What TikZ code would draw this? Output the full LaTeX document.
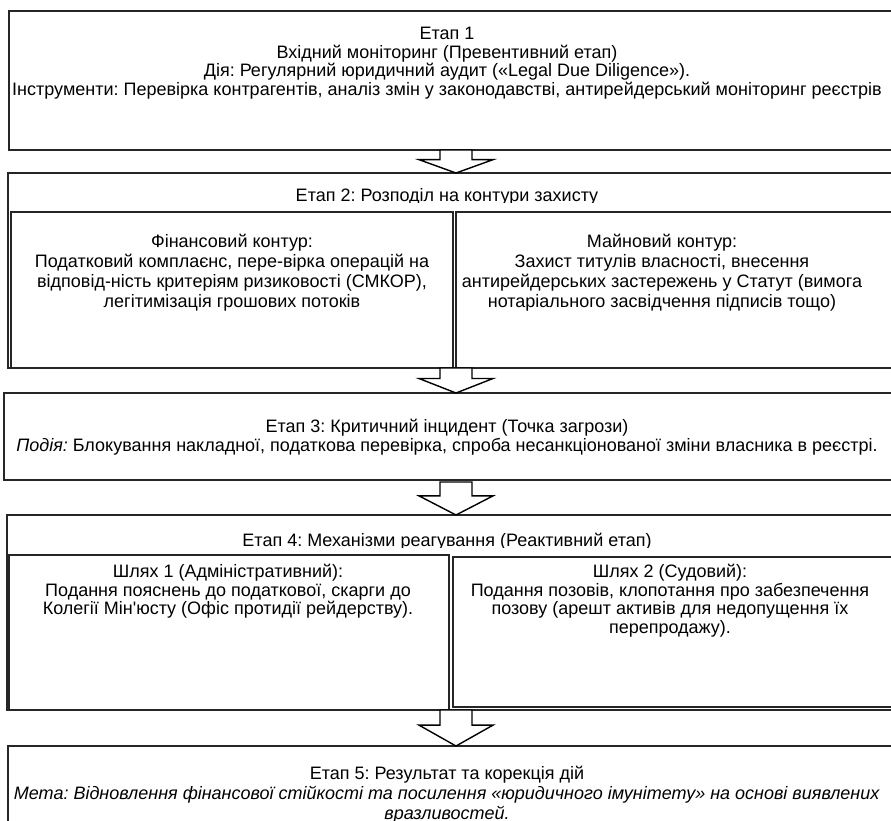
\documentclass[tikz,border=0pt]{standalone}
\usepackage{fontspec}
\setmainfont{Liberation Sans}[Ligatures=TeXOff]
\usetikzlibrary{calc}
\frenchspacing
\tikzset{
  boxline/.style={draw=black!85, line width=1.3pt},
  subbox/.style={boxline, fill=white},
  txt/.style={align=center, inner sep=0pt, font=\fontsize{18}{18.5}\selectfont\frenchspacing, text=black},
  txtw/.style={txt, font=\fontsize{18}{20}\selectfont\frenchspacing},
  barrow/.style={draw=black, line width=1.4pt, fill=white, line join=miter},
}
\newcommand\blockarr[2]{%
  \draw[barrow] let \p1=(#1.south -| ax), \p2=(#2.north -| ax) in
    (\x1-16pt,\y1) -- (\x1+16pt,\y1) -- (\x1+16pt,{\y1+0.42*(\y2-\y1)})
    -- (\x1+37pt,{\y1+0.42*(\y2-\y1)}) -- (\x1,\y2)
    -- (\x1-37pt,{\y1+0.42*(\y2-\y1)}) -- (\x1-16pt,{\y1+0.42*(\y2-\y1)}) -- cycle;}
\begin{document}
\begin{tikzpicture}[x=1pt,y=-1pt]
\useasboundingbox (0,0) rectangle (891,820);
\clip (0,0) rectangle (891,820);
\coordinate (ax) at (456,0);
% Stage 1
\draw[boxline] (9,11) rectangle (905,150);
\node[txt] (t1) at (447,63) {Етап 1\\Вхідний моніторинг (Превентивний етап)\\Дія: Регулярний юридичний аудит («Legal Due Diligence»).\\Інструменти: Перевірка контрагентів, аналіз змін у законодавстві, антирейдерський моніторинг реєстрів};
% Stage 2
\draw[boxline] (8,173) rectangle (905,368);
\begin{scope}
  \clip (0,173) rectangle (891,202.5);
  \node[txt, anchor=base] (t2) at (447,201) {Етап 2: Розподіл на контури захисту};
\end{scope}
\draw[subbox] (11,212) rectangle (453,368);
\draw[subbox] (456,212) rectangle (905,368);
\node[txtw] (t2a) at (232,273) {Фінансовий контур:\\Податковий комплаєнс, пере-вірка операцій на\\відповід-ність критеріям ризиковості (СМКОР),\\легітимізація грошових потоків};
\node[txtw] (t2b) at (662,273) {Майновий контур:\\Захист титулів власності, внесення\\антирейдерських застережень у Статут (вимога\\нотаріального засвідчення підписів тощо)};
% Stage 3
\draw[boxline] (4,393) rectangle (905,480);
\node[txt] (t3) at (447,437) {Етап 3: Критичний інцидент (Точка загрози)\\\textit{Подія:} Блокування накладної, податкова перевірка, спроба несанкціонованої зміни власника в реєстрі.};
% Stage 4
\draw[boxline] (7,515) rectangle (905,710);
\begin{scope}
  \clip (0,515) rectangle (891,547.5);
  \node[txt, anchor=base] (t4) at (447,546) {Етап 4: Механізми реагування (Реактивний етап)};
\end{scope}
\draw[subbox] (9,555) rectangle (449,710);
\draw[subbox] (453,557) rectangle (905,707);
\node[txt] (t4a) at (228,591.5) {Шлях 1 (Адміністративний):\\Подання пояснень до податкової, скарги до\\Колегії Мін'юсту (Офіс протидії рейдерству).};
\node[txt] (t4b) at (670,600.5) {Шлях 2 (Судовий):\\Подання позовів, клопотання про забезпечення\\позову (арешт активів для недопущення їх\\перепродажу).};
% Stage 5
\draw[boxline] (8,746) rectangle (905,840);
\node[txtw] (t5) at (447,794.5) {Етап 5: Результат та корекція дій\\\textit{Мета: Відновлення фінансової стійкості та посилення «юридичного імунітету» на основі виявлених}\\\textit{вразливостей.}};
% anchors for arrows
\coordinate (s1) at (456,150); \coordinate (n2) at (456,173);
\coordinate (s2) at (456,368); \coordinate (n3) at (456,393);
\coordinate (s3) at (456,482); \coordinate (n4) at (456,515);
\coordinate (s4) at (456,710); \coordinate (n5) at (456,746);
\blockarr{s1}{n2}
\blockarr{s2}{n3}
\blockarr{s3}{n4}
\blockarr{s4}{n5}
\end{tikzpicture}
\end{document}
